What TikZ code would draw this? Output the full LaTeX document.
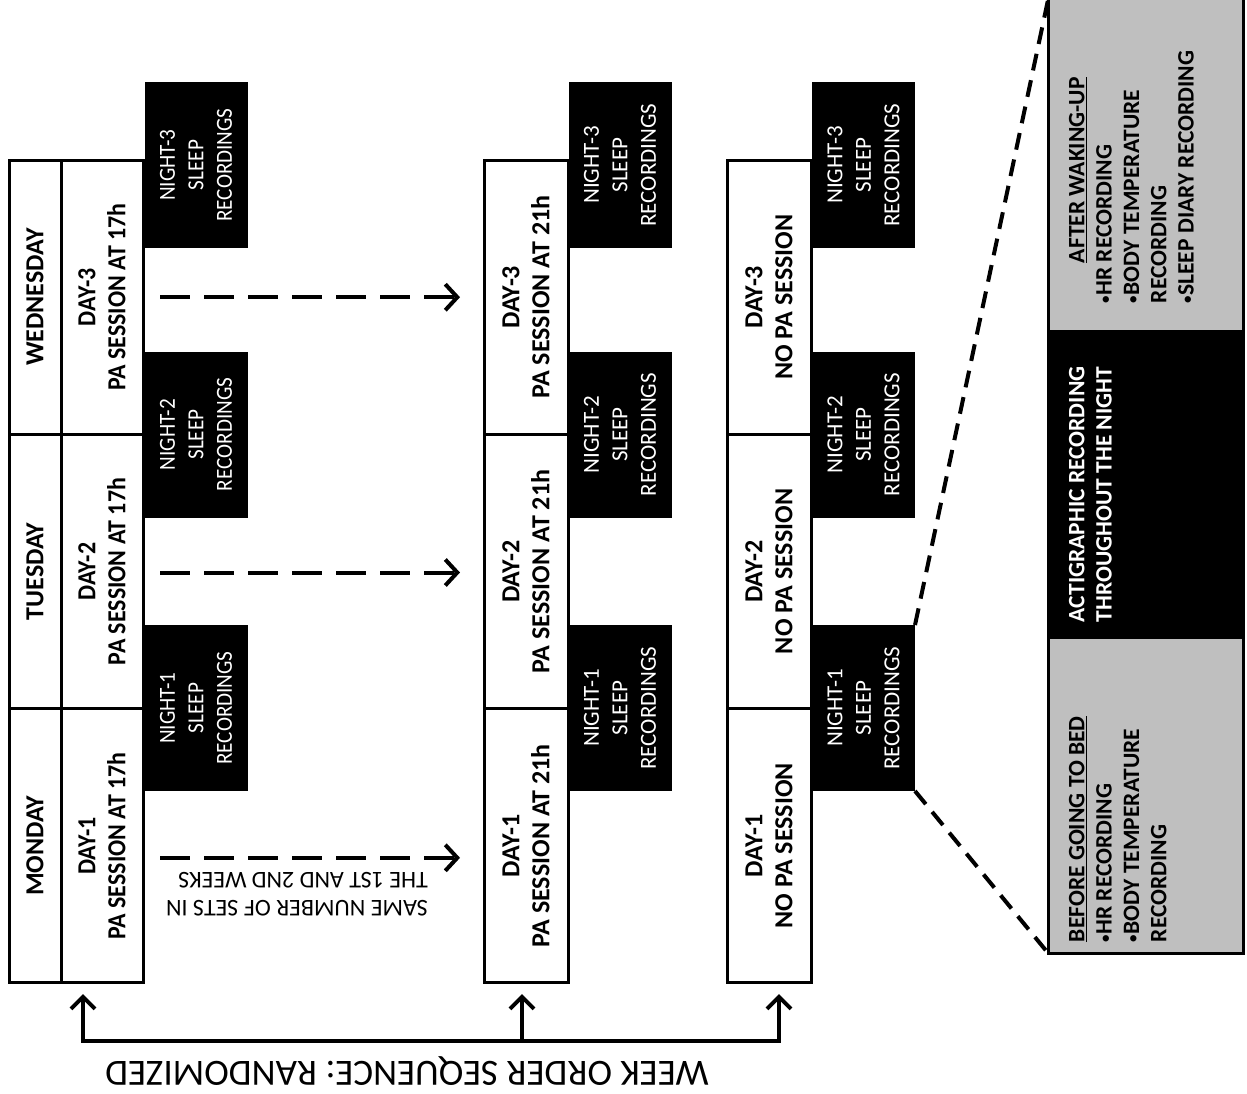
\documentclass[tikz,border=0pt]{standalone}
\usepackage{fontspec}
\setmainfont{Carlito}
\newfontfamily\narrowfont[FakeStretch=0.92]{Carlito}
\usetikzlibrary{arrows.meta}
\definecolor{panelgray}{HTML}{BFBFBF}
\newcommand{\smallbul}{\raisebox{1.5pt}{\fontsize{15}{15}\selectfont •}}
\begin{document}
\begin{tikzpicture}[x=1pt,y=-1pt,
  every node/.style={inner sep=0pt, outer sep=0pt},
  cell/.style={draw=black, line width=3pt, fill=white, rotate=90, align=center,
    font=\fontsize{26}{30}\selectfont\bfseries, minimum width=274.3pt},
  cellA/.style={cell, font=\narrowfont\fontsize{26}{30}\selectfont\bfseries},
  nightbox/.style={fill=black, text=white, rotate=90, align=center,
    minimum width=166pt, minimum height=103pt, font=\fontsize{23}{28.5}\selectfont},
  nightA/.style={nightbox, font=\narrowfont\fontsize{23}{28.5}\selectfont},
  dasharrow/.style={line width=4pt, dash pattern=on 30pt off 14pt,
    -{Straight Barb[length=12pt,width=26pt]}},
  zoomline/.style={line width=4pt, dash pattern=on 17pt off 10pt},
  bracket/.style={line width=4pt, line join=miter},
  uptip/.style={{Straight Barb[length=12pt,width=24pt]}-{Straight Barb[length=12pt,width=24pt]}},
  uptipone/.style={-{Straight Barb[length=12pt,width=24pt]}},
  flipnote/.style={rotate=180, align=left},
  panelgrey/.style={draw=black, line width=3pt, fill=panelgray, anchor=north west, minimum width=195pt},
  panelblack/.style={draw=black, line width=3pt, fill=black, anchor=north west, minimum width=195pt},
  paneltext/.style={rotate=90, anchor=north west, align=left,
    font=\fontsize{23.5}{27.3}\selectfont\bfseries},
]
\useasboundingbox (0,0) rectangle (1247,1093);

% ---------- week 1 ----------
\node[cell, minimum height=52pt] (wed) at (35,297.2) {WEDNESDAY};
\node[cell, minimum height=52pt] (tue) at (35,571.5) {TUESDAY};
\node[cell, minimum height=52pt] (mon) at (35,845.8) {MONDAY};
\node[cellA, minimum height=82pt] (a3) at (102,297.2) {DAY-3\\PA SESSION AT 17h};
\node[cellA, minimum height=82pt] (a2) at (102,571.5) {DAY-2\\PA SESSION AT 17h};
\node[cellA, minimum height=82pt] (a1) at (102,845.8) {DAY-1\\PA SESSION AT 17h};
\node[nightA] (an3) at (196,165) {NIGHT-3\\SLEEP\\RECORDINGS};
\node[nightA] (an2) at (196,434.5) {NIGHT-2\\SLEEP\\RECORDINGS};
\node[nightA] (an1) at (196,708) {NIGHT-1\\SLEEP\\RECORDINGS};

% ---------- week 2 ----------
\node[cell, minimum height=84pt] (b3) at (526,297.2) {DAY-3\\PA SESSION AT 21h};
\node[cell, minimum height=84pt] (b2) at (526,571.5) {DAY-2\\PA SESSION AT 21h};
\node[cell, minimum height=84pt] (b1) at (526,845.8) {DAY-1\\PA SESSION AT 21h};
\node[nightbox] (bn3) at (620,165) {NIGHT-3\\SLEEP\\RECORDINGS};
\node[nightbox] (bn2) at (620,434.5) {NIGHT-2\\SLEEP\\RECORDINGS};
\node[nightbox] (bn1) at (620,708) {NIGHT-1\\SLEEP\\RECORDINGS};

% ---------- week 3 ----------
\node[cell, minimum height=84pt] (c3) at (769,297.2) {DAY-3\\NO PA SESSION};
\node[cell, minimum height=84pt] (c2) at (769,571.5) {DAY-2\\NO PA SESSION};
\node[cell, minimum height=84pt] (c1) at (769,845.8) {DAY-1\\NO PA SESSION};
\node[nightbox] (cn3) at (863.5,165) {NIGHT-3\\SLEEP\\RECORDINGS};
\node[nightbox] (cn2) at (863.5,434.5) {NIGHT-2\\SLEEP\\RECORDINGS};
\node[nightbox] (cn1) at (863.5,708) {NIGHT-1\\SLEEP\\RECORDINGS};

% ---------- dashed arrows week 1 -> week 2 ----------
\draw[dasharrow] ([xshift=17pt]a3.south) -- ([xshift=-24pt]b3.north);
\draw[dasharrow] ([xshift=17pt,yshift=-1pt]a2.south) -- ([xshift=-24pt,yshift=-1pt]b2.north);
\draw[dasharrow] ([xshift=17pt,yshift=-12pt]a1.south) -- ([xshift=-24pt,yshift=-12pt]b1.north);
\node[flipnote, font=\fontsize{24}{28}\selectfont] (note) at (297,894)
  {SAME NUMBER OF SETS IN\\THE 1ST AND 2ND WEEKS};

% ---------- randomisation bracket ----------
\coordinate (k1) at (83,1041);
\coordinate (k2) at (522,1041);
\coordinate (k3) at (779,1041);
\coordinate (t1) at (83,994);
\coordinate (t2) at (522,994);
\coordinate (t3) at (779,994);
\draw[bracket, uptip] (t1) -- (k1) -- (k3) -- (t3);
\draw[bracket, uptipone] (k2) -- (t2);
\node[rotate=180, font=\fontsize{37}{40}\selectfont] (order) at (407,1071)
  {WEEK ORDER SEQUENCE: RANDOMIZED};

% ---------- detail panel ----------
\node[panelgrey, minimum height=341pt] (after) at (1048,-10) {};
\node[panelblack, minimum height=306pt] (acti) at (1048,331) {};
\node[panelgrey, minimum height=316pt] (before) at (1048,637) {};
\coordinate (ztop) at (1048,0);
\draw[zoomline] (cn1.south east) -- (ztop);
\draw[zoomline] (cn1.south west) -- (before.south west);

\node[paneltext] (aftertxt) at (1069,303)
  {\hspace*{40pt}\underline{AFTER WAKING-UP}\\\smallbul HR RECORDING\\\smallbul BODY TEMPERATURE\\RECORDING\\\smallbul SLEEP DIARY RECORDING};
\node[paneltext, text=white] (actitxt) at (1069,622)
  {ACTIGRAPHIC RECORDING\\THROUGHOUT THE NIGHT};
\node[paneltext] (beforetxt) at (1069,942)
  {\underline{BEFORE GOING TO BED}\\\smallbul HR RECORDING\\\smallbul BODY TEMPERATURE\\RECORDING};
\end{tikzpicture}
\end{document}
